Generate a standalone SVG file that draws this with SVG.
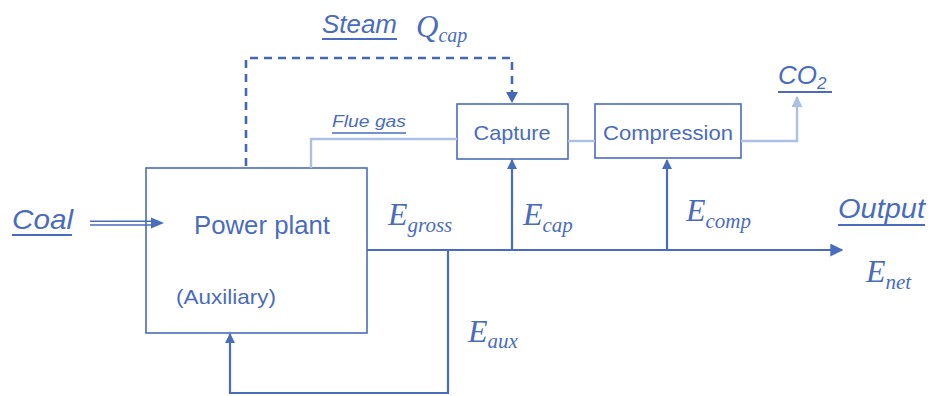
<svg xmlns="http://www.w3.org/2000/svg" width="931" height="396" viewBox="0 0 931 396">
<defs>
<style>
.box{fill:#fff;stroke:#4a6cbd;stroke-width:1.6}
.ln{fill:none;stroke:#4a6cbd;stroke-width:2.2}
.lt{fill:none;stroke:#abc0e2;stroke-width:2.4}
.dash{fill:none;stroke:#4467b6;stroke-width:2.6;stroke-dasharray:8,6}
.sans{font-family:"Liberation Sans",Arial,sans-serif;fill:#4a6cbd}
.it{font-style:italic}
.ser{font-family:"Liberation Serif","Times New Roman",serif;font-style:italic;fill:#4a6cbd}
.ul{stroke:#4a6cbd;stroke-width:1.8}
</style>
<marker id="ah" viewBox="0 0 10 10" refX="9" refY="5" markerWidth="10" markerHeight="10" markerUnits="userSpaceOnUse" orient="auto"><path d="M0,0L10,5L0,10z" fill="#4a6cbd"/></marker>
<marker id="ahl" viewBox="0 0 10 10" refX="9" refY="5" markerWidth="11" markerHeight="11" markerUnits="userSpaceOnUse" orient="auto"><path d="M0,0L10,5L0,10z" fill="#abc0e2"/></marker>
<marker id="ahb" viewBox="0 0 10 10" refX="9" refY="5" markerWidth="13" markerHeight="13" markerUnits="userSpaceOnUse" orient="auto"><path d="M0,0L10,5L0,10z" fill="#4a6cbd"/></marker>
</defs>
<g id="power-plant">
<rect class="box" x="146" y="168" width="221" height="165"/>
<text class="sans" x="262" y="234" font-size="25" text-anchor="middle" textLength="136" lengthAdjust="spacingAndGlyphs">Power plant</text>
<text class="sans" x="226" y="304" font-size="21" text-anchor="middle" textLength="100" lengthAdjust="spacingAndGlyphs">(Auxiliary)</text>
</g>
<g id="capture">
<rect class="box" x="457" y="104" width="111" height="55"/>
<text class="sans" x="512" y="140" font-size="21" text-anchor="middle" textLength="77" lengthAdjust="spacingAndGlyphs">Capture</text>
</g>
<g id="compression">
<rect class="box" x="595" y="104" width="146" height="54"/>
<text class="sans" x="668" y="140" font-size="21" text-anchor="middle" textLength="130" lengthAdjust="spacingAndGlyphs">Compression</text>
</g>
<g id="connectors">
<path class="dash" d="M246,166V58H512V92"/>
<path d="M506,92L512,103L518,92z" fill="#4467b6"/>
<path class="lt" d="M311,168V139H457"/>
<path class="lt" d="M568,141H595"/>
<path class="lt" d="M741,141H797V97" marker-end="url(#ahl)"/>
<path class="ln" d="M90,221.3H154M90,225H154" style="stroke-width:1.6"/>
<path d="M151,217.5L164,223L151,228.5z" fill="#4a6cbd"/>
<path class="ln" d="M367,250H842" marker-end="url(#ahb)"/>
<path class="ln" d="M512,250V160" marker-end="url(#ah)"/>
<path class="ln" d="M667,250V160" marker-end="url(#ah)"/>
<path class="ln" d="M448,250V393H230V334" marker-end="url(#ah)"/>
</g>
<g id="labels">
<text class="sans it" x="322" y="33" font-size="25" textLength="75" lengthAdjust="spacingAndGlyphs">Steam</text>
<line class="ul" x1="322" y1="39" x2="397" y2="39"/>
<text class="ser" x="416" y="37" font-size="31" fill="#6a88c8">Q<tspan font-size="20" dy="5">cap</tspan></text>
<text class="sans it" x="332" y="127" font-size="17" textLength="74" lengthAdjust="spacingAndGlyphs">Flue gas</text>
<line class="ul" x1="332" y1="133" x2="406" y2="133" style="stroke-width:1.3"/>
<text class="sans it" x="778" y="84" font-size="26">CO<tspan font-size="17" dy="5">2</tspan></text>
<line class="ul" x1="778" y1="92" x2="832" y2="92"/>
<text class="sans it" x="12" y="229" font-size="28" textLength="61" lengthAdjust="spacingAndGlyphs">Coal</text>
<line class="ul" x1="12" y1="235" x2="72" y2="235"/>
<text class="sans it" x="838" y="218" font-size="27" textLength="87" lengthAdjust="spacingAndGlyphs">Output</text>
<line class="ul" x1="838" y1="225" x2="925" y2="225"/>
<text class="ser" x="388" y="225" font-size="32">E<tspan font-size="21" dy="7">gross</tspan></text>
<text class="ser" x="523" y="225" font-size="32">E<tspan font-size="21" dy="7">cap</tspan></text>
<text class="ser" x="686" y="221" font-size="32">E<tspan font-size="21" dy="7">comp</tspan></text>
<text class="ser" x="866" y="282" font-size="32">E<tspan font-size="21" dy="7">net</tspan></text>
<text class="ser" x="468" y="342" font-size="32">E<tspan font-size="21" dy="6">aux</tspan></text>
</g>
</svg>
